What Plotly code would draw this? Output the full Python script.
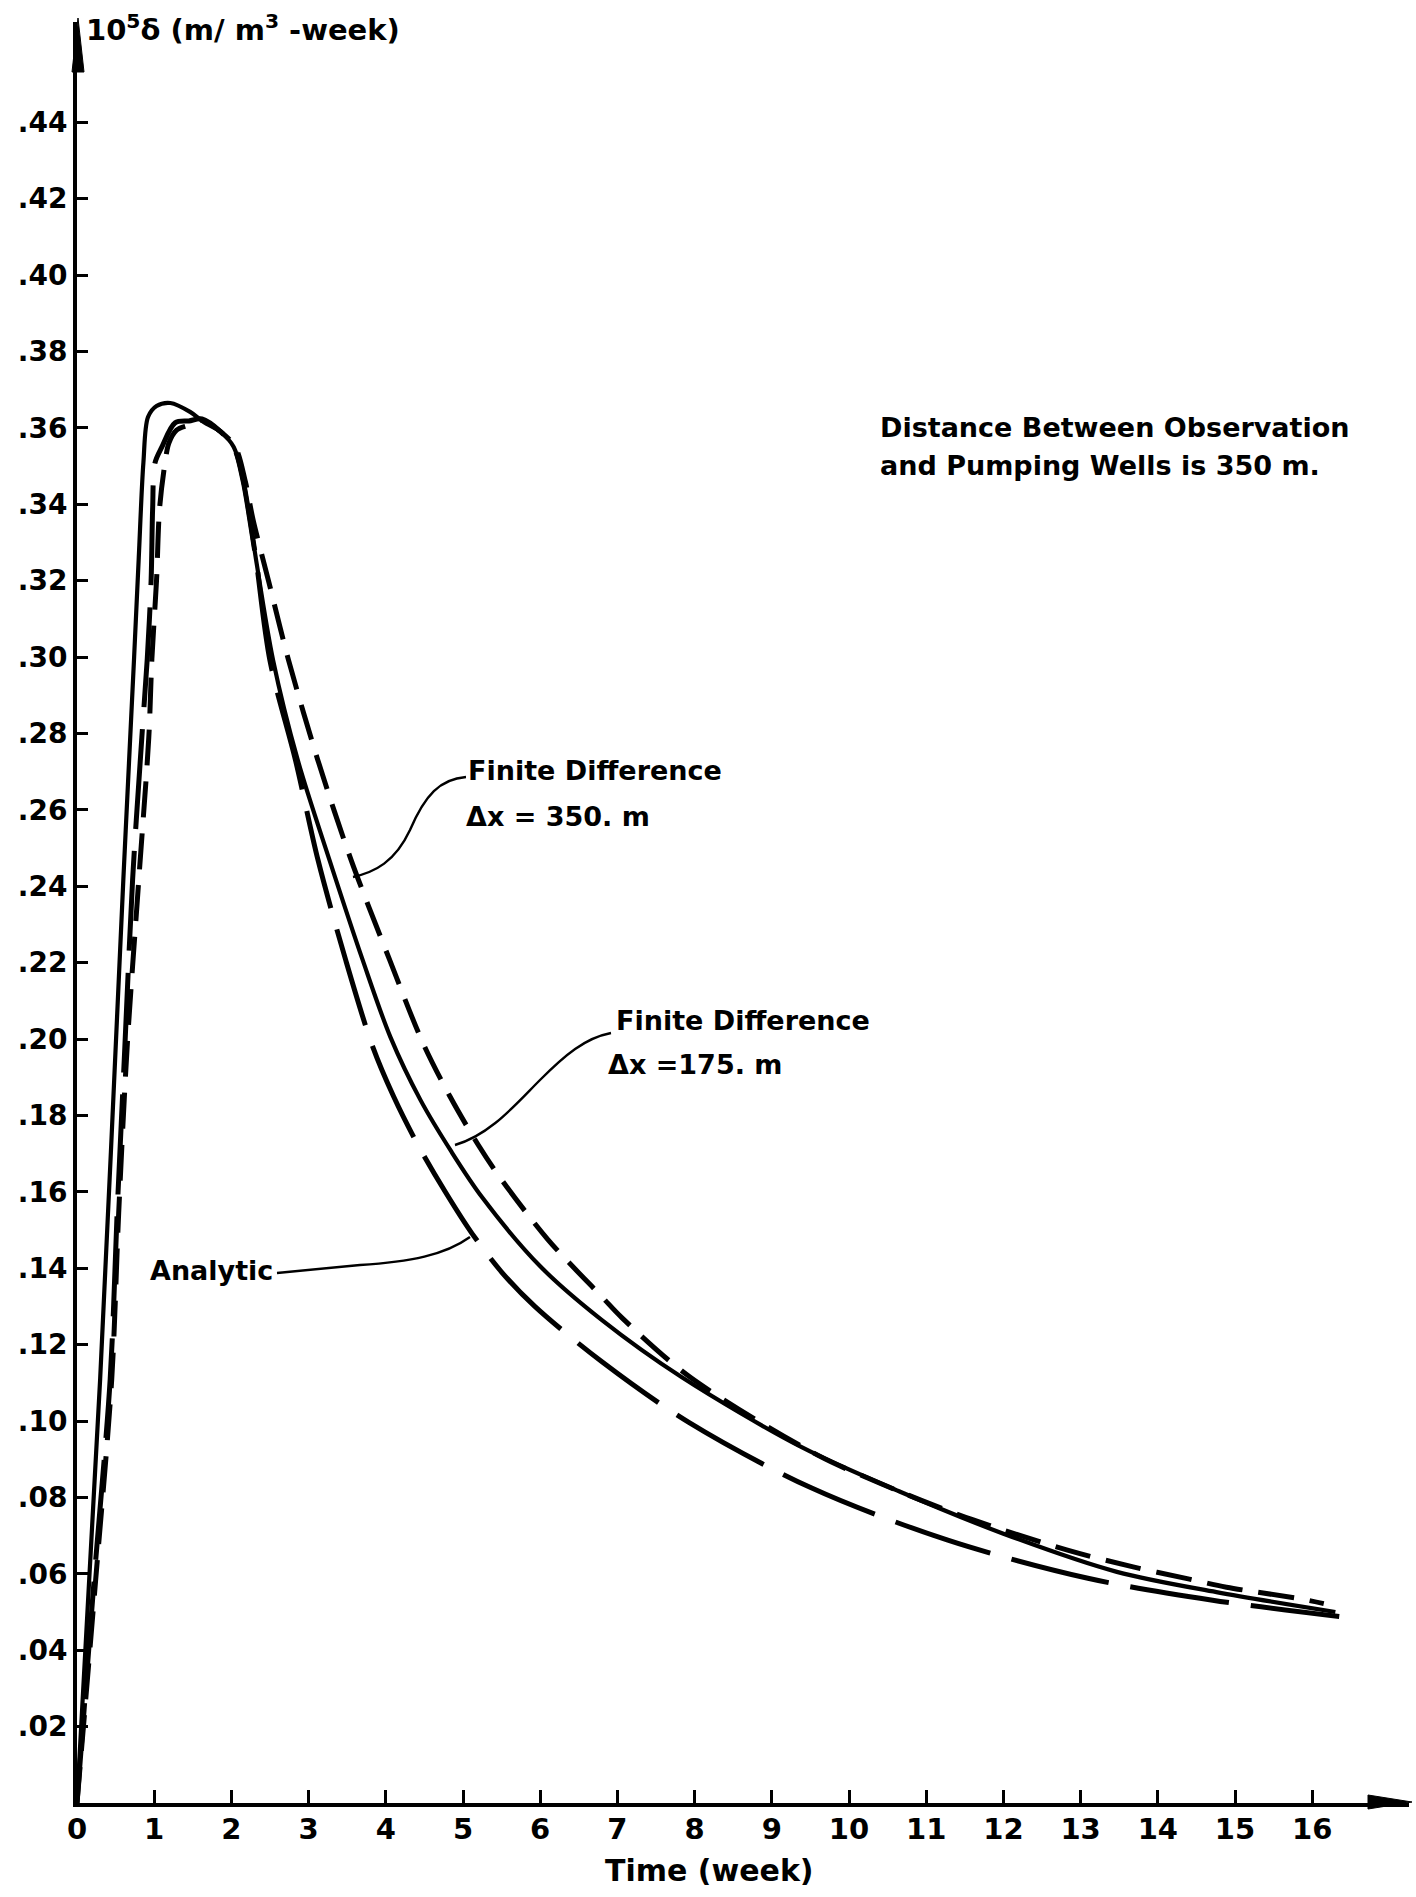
import plotly.graph_objects as go

# ---------------- data ----------------
# Analytic solution (long dashes)
t_analytic = [0, 0.22, 0.43, 0.52, 0.62, 0.72, 0.84, 0.91, 0.96, 0.98, 1.01, 1.10, 1.27, 1.45, 1.62,
              1.86, 2.03, 2.15, 2.24, 2.32, 2.50, 2.83, 3.12, 3.48, 3.83, 4.10, 4.41, 4.77, 5.12,
              5.50, 5.93, 6.80, 7.92, 9.51, 11.28, 13.08, 14.71, 16.35]
v_analytic = [0, 0.058, 0.111, 0.1545, 0.198, 0.2416, 0.279, 0.2995, 0.320, 0.339, 0.3508, 0.355,
              0.3613, 0.3618, 0.3623, 0.359, 0.355, 0.3463, 0.3358, 0.3254, 0.299, 0.273, 0.247,
              0.2207, 0.198, 0.185, 0.1725, 0.160, 0.149, 0.139, 0.130, 0.1155, 0.0997, 0.0825,
              0.0688, 0.0589, 0.0531, 0.0488]

# Finite difference, dx = 175 m (solid)
t_fd175 = [0, 0.30, 0.60, 0.74, 0.80, 0.86, 0.92, 1.03, 1.21, 1.47, 1.64, 1.86, 2.03, 2.15, 2.24,
           2.32, 2.54, 2.86, 3.27, 3.70, 4.06, 4.45, 4.85, 5.25, 6.00, 6.80, 7.83, 9.38, 10.67,
           12.00, 13.47, 14.76, 16.30]
v_fd175 = [0, 0.111, 0.2416, 0.300, 0.326, 0.3508, 0.3628, 0.3657, 0.3665, 0.3641, 0.3615, 0.3589,
           0.355, 0.3463, 0.3358, 0.3254, 0.2992, 0.273, 0.2469, 0.2207, 0.2005, 0.184, 0.1705,
           0.1585, 0.1405, 0.1264, 0.1115, 0.0932, 0.0814, 0.0705, 0.0605, 0.0552, 0.0500]

# Finite difference, dx = 350 m (short dashes)
t_fd350 = [0, 0.24, 0.45, 0.54, 0.65, 0.80, 0.93, 0.97, 1.03, 1.07, 1.14, 1.19, 1.29, 1.45, 1.62,
           1.86, 2.05, 2.18, 2.28, 2.48, 2.74, 3.12, 3.55, 4.05, 4.48, 4.83, 5.19, 5.47, 6.10,
           6.80, 7.06, 7.94, 9.60, 10.25, 10.93, 11.61, 12.83, 13.68, 14.41, 14.89, 15.83, 16.15]
v_fd350 = [0, 0.058, 0.111, 0.1545, 0.198, 0.2416, 0.279, 0.2995, 0.320, 0.339, 0.3508, 0.356,
           0.3594, 0.3607, 0.362, 0.359, 0.355, 0.346, 0.336, 0.320, 0.2992, 0.273, 0.2469,
           0.2207, 0.199, 0.185, 0.1725, 0.164, 0.1475, 0.1325, 0.127, 0.1115, 0.091, 0.085,
           0.0793, 0.0741, 0.0662, 0.0618, 0.0586, 0.0565, 0.0535, 0.0522]

x_ticks = list(range(0, 17))
x_tick_labels = [str(i) for i in x_ticks]
y_ticks = [0.02 * i for i in range(1, 23)]
y_tick_labels = [".%02d" % (2 * i) for i in range(1, 23)]

# ---------------- geometry ----------------
W, H = 1416, 1897
L, R, T, B = 77, 7, 22, 94
X0 = 77.0          # pixel of t = 0
SX = 77.2          # pixels per week
Y0 = 1803.0        # pixel of value 0
SY = 3820.0        # pixels per unit value
x_max = (W - R - X0) / SX
y_max = (Y0 - T) / SY
PW, PH = W - L - R, H - T - B


def px(x):
    return (x - L) / PW


def py(y):
    return (H - B - y) / PH


FONT = "DejaVu Sans"
BLK = "black"
SMOOTH = 0.9

fig = go.Figure()
fig.add_trace(go.Scatter(x=t_analytic, y=v_analytic, mode="lines", name="Analytic",
                         line=dict(color=BLK, width=5, dash="100px,22px", shape="spline",
                                   smoothing=SMOOTH)))
fig.add_trace(go.Scatter(x=t_fd175, y=v_fd175, mode="lines", name="Finite Difference dx=175 m",
                         line=dict(color=BLK, width=4.2, shape="spline", smoothing=SMOOTH)))
fig.add_trace(go.Scatter(x=t_fd350, y=v_fd350, mode="lines", name="Finite Difference dx=350 m",
                         line=dict(color=BLK, width=5, dash="36px,16px", shape="spline",
                                   smoothing=SMOOTH)))

fig.update_layout(
    width=W, height=H, margin=dict(l=L, r=R, t=T, b=B),
    paper_bgcolor="white", plot_bgcolor="white", showlegend=False,
    font=dict(family=FONT, color=BLK),
    xaxis=dict(range=[0, x_max], tickvals=x_ticks, ticktext=x_tick_labels,
               showgrid=False, zeroline=False, showline=True, linewidth=4, linecolor=BLK,
               ticks="inside", ticklen=13, tickwidth=3, tickcolor=BLK,
               tickfont=dict(size=29, family=FONT, color=BLK, weight="bold"),
               ticklabelstandoff=-3),
    yaxis=dict(range=[0, y_max], tickvals=y_ticks, ticktext=y_tick_labels,
               showgrid=False, zeroline=False, showline=True, linewidth=4, linecolor=BLK,
               ticks="inside", ticklen=11, tickwidth=3, tickcolor=BLK,
               tickfont=dict(size=28, family=FONT, color=BLK, weight="bold"),
               ticklabelstandoff=0),
)

# axis arrow heads
fig.add_shape(type="path", xref="paper", yref="paper",
              path=f"M {px(78)},{py(18)} L {px(72)},{py(72)} L {px(84)},{py(72)} Z",
              fillcolor=BLK, line=dict(color=BLK, width=1))
fig.add_shape(type="path", xref="paper", yref="paper",
              path=f"M {px(1412)},{py(1802)} L {px(1368)},{py(1795)} L {px(1368)},{py(1809)} Z",
              fillcolor=BLK, line=dict(color=BLK, width=1))

# leader lines
leaders = [
    [(466, 777), (440, 779), (425, 795), (410, 830), (395, 862), (375, 872), (353, 877)],
    [(611, 1033), (585, 1038), (565, 1055), (540, 1080), (515, 1105), (490, 1135), (455, 1145)],
    [(277, 1273), (360, 1265), (410, 1262), (445, 1255), (470, 1237)],
]
for pts in leaders:
    p0 = pts[0]
    d = f"M {px(p0[0])},{py(p0[1])}"
    rest = pts[1:]
    if len(rest) == 6:
        d += " C " + " ".join(f"{px(a)},{py(b)}" for a, b in rest[:3])
        d += " C " + " ".join(f"{px(a)},{py(b)}" for a, b in rest[3:])
    else:
        d += f" L {px(rest[0][0])},{py(rest[0][1])}"
        d += " C " + " ".join(f"{px(a)},{py(b)}" for a, b in rest[1:])
    fig.add_shape(type="path", xref="paper", yref="paper", path=d,
                  line=dict(color=BLK, width=2.4))

# text annotations: (text, x, y, size, anchor)
texts = [
    ("10<sup>5</sup>δ (m/ m<sup>3</sup> -week)", 84, 28, 29, "left"),
    ("Distance Between Observation", 878, 428, 27, "left"),
    ("and Pumping Wells is 350 m.", 878, 466, 27, "left"),
    ("Finite Difference", 466, 771, 27, "left"),
    ("Δx = 350. m", 464, 816, 27, "left"),
    ("Finite Difference", 614, 1021, 27, "left"),
    ("Δx =175. m", 606, 1064, 27, "left"),
    ("Analytic", 148, 1270, 27, "left"),
    ("Time (week)", 709, 1870, 30, "center"),
]
for txt, x, y, s, anc in texts:
    fig.add_annotation(text=txt, x=px(x), y=py(y), xref="paper", yref="paper",
                       xanchor=anc, yanchor="middle", showarrow=False,
                       font=dict(size=s, family=FONT, color=BLK, weight="bold"))

fig.write_html("out.html", config={"displayModeBar": False},
               post_script="document.body.style.margin='0px';")
